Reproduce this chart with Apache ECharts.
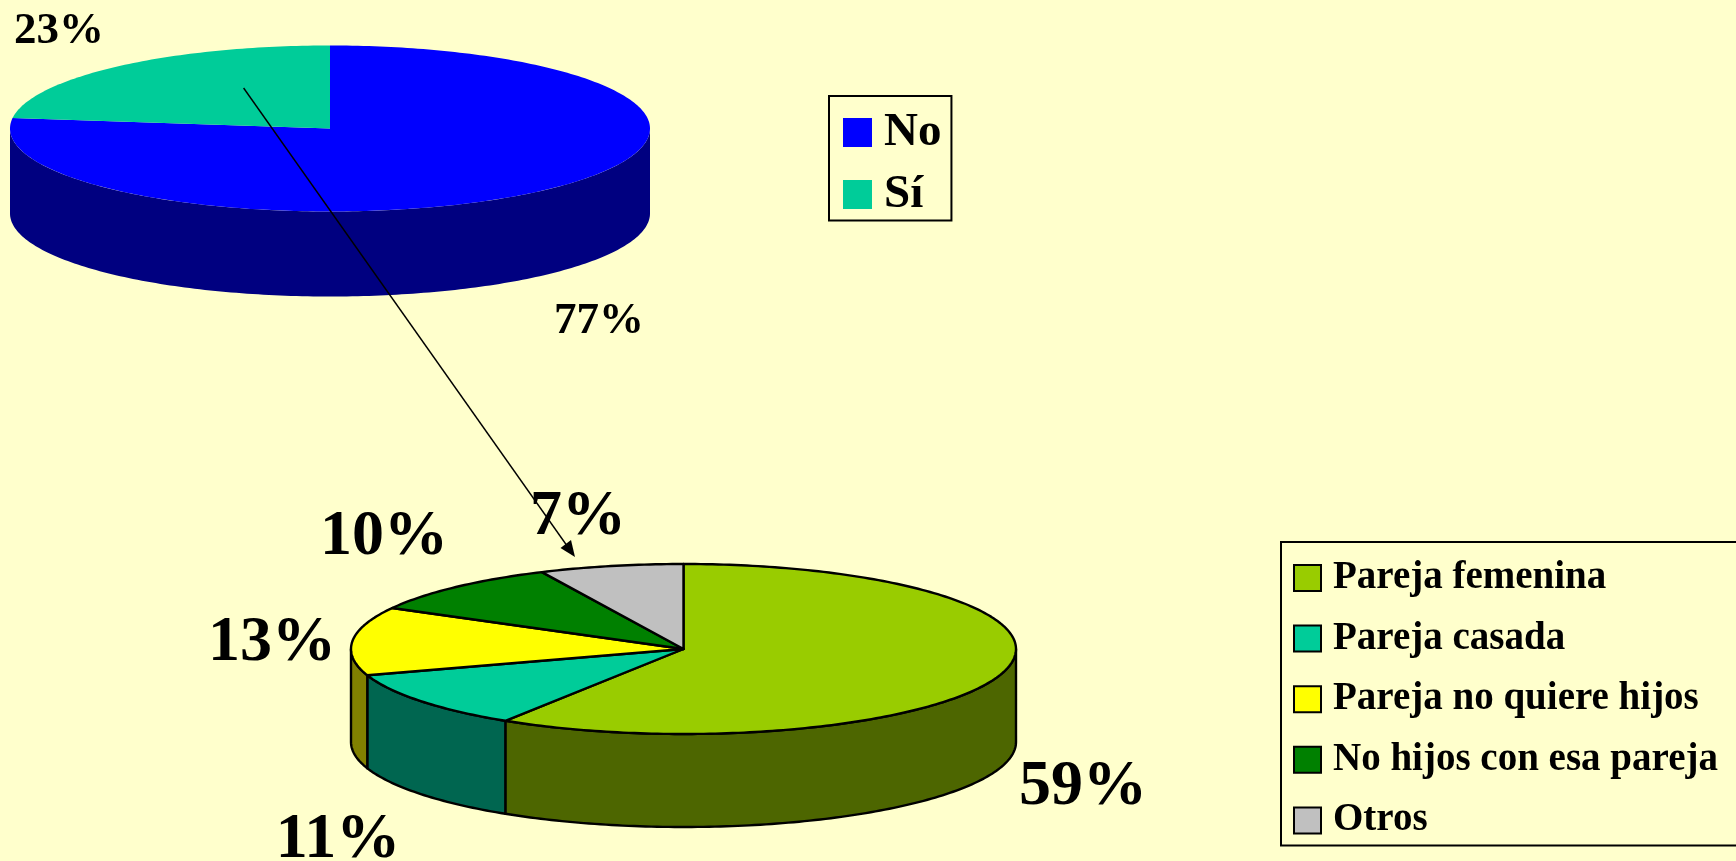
<!DOCTYPE html>
<html>
<head>
<meta charset="utf-8">
<style>html,body{margin:0;padding:0;background:#FFFFCC;overflow:hidden}#c{width:1736px;height:861px}</style>
<script src="https://cdn.jsdelivr.net/npm/echarts@6/dist/echarts.min.js"></script>
</head>
<body>
<div id="c"></div>
<script>
const answerCategories = ['No', 'Sí'];
const answerValues = [77, 23];
const reasonCategories = ['Pareja femenina', 'Pareja casada', 'Pareja no quiere hijos', 'No hijos con esa pareja', 'Otros'];
const reasonValues = [59, 11, 13, 10, 7];

const answerTop = ['#0000FF', '#00CC99'];
const answerSide = ['#000080', '#006650'];
const reasonTop = ['#99CC00', '#00CC99', '#FFFF00', '#008000', '#C0C0C0'];
const reasonSide = ['#4D6600', '#006650', '#808000', '#004000', '#606060'];

const answerGeom = {cx: 330, cy: 128.5, rx: 320, ry: 83, depth: 85, stroke: null, lw: 0, font: 45};
const reasonGeom = {cx: 683.5, cy: 649, rx: 332.5, ry: 85, depth: 93, stroke: '#000', lw: 2.4, font: 64};
const answerLabelPos = [[599, 321], [59, 31]];
const reasonLabelPos = [[1083, 787], [338, 840], [272, 643], [384, 537], [578, 517]];

const FONT = '"Liberation Serif","Times New Roman",serif';
const RAD = Math.PI / 180;

function pt(g, deg, dy) {
  return [g.cx + g.rx * Math.sin(deg * RAD), g.cy - g.ry * Math.cos(deg * RAD) + (dy || 0)];
}
function arc(g, a, b, dy) {
  const out = [], n = Math.max(2, Math.ceil(Math.abs(b - a)));
  for (let i = 0; i <= n; i++) out.push(pt(g, a + (b - a) * i / n, dy));
  return out;
}
function sliceSeries(names, values, tops, sides, g, labelPos) {
  const total = values.reduce((s, v) => s + v, 0);
  let acc = 0;
  return names.map((name, i) => {
    const start = acc / total * 360;
    acc += values[i];
    const end = acc / total * 360;
    return {
      type: 'custom',
      name,
      coordinateSystem: 'none',
      silent: true,
      animation: false,
      itemStyle: {color: tops[i]},
      data: [[values[i]]],
      renderItem(params, api) {
        const children = [];
        const style = {stroke: g.stroke, lineWidth: g.lw, lineJoin: 'round'};
        const a = Math.max(start, 90), b = Math.min(end, 270);
        if (b > a) {
          const upper = arc(g, a, b, 0), lower = arc(g, b, a, g.depth);
          children.push({type: 'polygon', shape: {points: upper.concat(lower)},
            style: Object.assign({fill: sides[i]}, style)});
        }
        children.push({type: 'polygon', shape: {points: [[g.cx, g.cy]].concat(arc(g, start, end, 0))},
          style: Object.assign({fill: tops[i]}, style)});
        children.push({type: 'text', x: labelPos[i][0], y: labelPos[i][1],
          style: {text: api.value(0) + '%', fill: '#000', textAlign: 'center', textVerticalAlign: 'middle',
            font: 'bold ' + g.font + 'px ' + FONT}});
        return {type: 'group', children};
      }
    };
  });
}

const chart = echarts.init(document.getElementById('c'), null, {renderer: 'canvas'});
chart.setOption({
  backgroundColor: '#FFFFCC',
  animation: false,
  legend: [
    {
      data: answerCategories, left: 829, top: 96, orient: 'vertical', selectedMode: false,
      itemWidth: 29, itemHeight: 29, itemGap: 15, icon: 'rect',
      padding: [13, 10, 2.5, 14], borderColor: '#000', borderWidth: 2, backgroundColor: '#FFFFCC',
      itemStyle: {borderWidth: 0},
      textStyle: {fontFamily: FONT, fontWeight: 'bold', fontSize: 47, color: '#000', lineHeight: 29, padding: [0, 0, 0, 7]}
    },
    {
      data: reasonCategories, left: 1281, top: 542, orient: 'vertical', selectedMode: false,
      itemWidth: 27, itemHeight: 26, itemGap: 21.6, icon: 'rect',
      padding: [16.5, 30, 5.5, 12], borderColor: '#000', borderWidth: 2, backgroundColor: '#FFFFCC',
      itemStyle: {borderColor: '#000', borderWidth: 2},
      textStyle: {fontFamily: FONT, fontWeight: 'bold', fontSize: 39, color: '#000', lineHeight: 26, padding: [0, 0, 0, 7]}
    }
  ],
  series: sliceSeries(answerCategories, answerValues, answerTop, answerSide, answerGeom, answerLabelPos)
    .concat(sliceSeries(reasonCategories, reasonValues, reasonTop, reasonSide, reasonGeom, reasonLabelPos)),
  graphic: [
    {type: 'line', z: 100, silent: true, shape: {x1: 243.6, y1: 88, x2: 570, y2: 550}, style: {stroke: '#000', lineWidth: 1.4}},
    {type: 'polygon', z: 100, silent: true, shape: {points: [[575, 557], [571, 540], [560.5, 548]]}, style: {fill: '#000'}}
  ]
});
</script>
</body>
</html>
